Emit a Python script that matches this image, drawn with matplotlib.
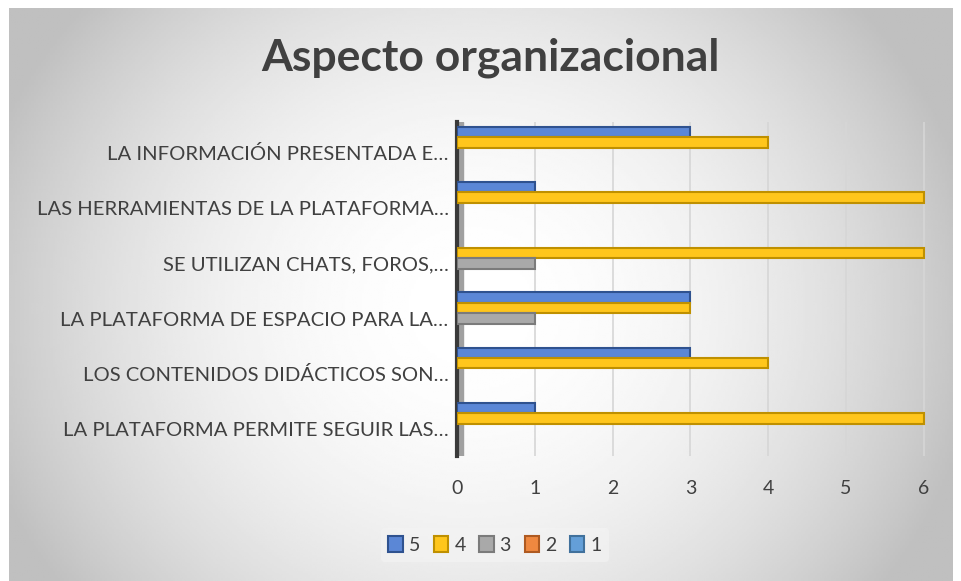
import numpy as np
import matplotlib.pyplot as plt
from matplotlib.patches import Patch

# datos (de arriba hacia abajo)
categorias = [
    "LA INFORMACIÓN PRESENTADA E…",
    "LAS HERRAMIENTAS DE LA PLATAFORMA…",
    "SE UTILIZAN CHATS, FOROS,…",
    "LA PLATAFORMA DE ESPACIO PARA LA…",
    "LOS CONTENIDOS DIDÁCTICOS SON…",
    "LA PLATAFORMA PERMITE SEGUIR LAS…",
]
serie_5 = [3, 1, 0, 3, 3, 1]
serie_4 = [4, 6, 6, 3, 4, 6]
serie_3 = [0, 0, 1, 1, 0, 0]
serie_2 = [0, 0, 0, 0, 0, 0]
serie_1 = [0, 0, 0, 0, 0, 0]
nombres = ["5", "4", "3", "2", "1"]
ticks_x = [0, 1, 2, 3, 4, 5, 6]

rellenos = ["#5b87d6", "#ffc61c", "#a9a9a9", "#ef8840", "#649fd8"]
bordes = ["#2f528f", "#bf9000", "#7b7b7b", "#ae5a21", "#41719c"]

plt.rcParams['font.family'] = ['Lato', 'DejaVu Sans']
texto = "#404040"

W, H = 961, 581
fig = plt.figure(figsize=(W / 100, H / 100), dpi=100, facecolor="white")

# fondo con degradado radial
bg = fig.add_axes([9 / W, 0, (953 - 9) / W, (581 - 8) / H])
bg.set_axis_off()
gx, gy = np.meshgrid(np.linspace(-1, 1, 400), np.linspace(-1, 1, 250))
r2 = ((gx + 0.02) / 1.0) ** 2 + ((gy + 0.05) / 1.5) ** 2
val = np.clip(1.0 - 0.21 * r2, 0.75, 1)
bg.imshow(val, cmap="gray", vmin=0, vmax=1, aspect="auto", extent=[0, 1, 0, 1], origin="lower")
bg.set_zorder(0)

ax = fig.add_axes([457 / W, 1 - 456 / H, (926 - 457) / W, (456 - 122) / H])
ax.set_zorder(1)
ax.patch.set_alpha(0)

n = len(categorias)
y = np.arange(n)[::-1]
series = [serie_5, serie_4, serie_3, serie_2, serie_1]
alto = 0.19
desp = [0.38, 0.19, 0.0, -0.19, -0.38]
for s, d, f, b in zip(series, desp, rellenos, bordes):
    s = np.array(s)
    m = s > 0  # las barras en cero no se dibujan
    ax.barh(y[m] + d, s[m], height=alto, color=f, edgecolor=b, linewidth=1.5, zorder=3)

ax.set_xlim(0, 6.03)
ax.set_ylim(-0.49, 5.56)
ax.set_xticks(ticks_x)
ax.set_xticklabels([str(t) for t in ticks_x])
ax.set_yticks(y)
ax.set_yticklabels(categorias)
ax.tick_params(axis="x", length=0, pad=17, labelsize=14, labelcolor=texto)
ax.tick_params(axis="y", length=0, pad=6, labelsize=14.6, labelcolor=texto)
ax.grid(axis="x", color="#d6d6d6", linewidth=1.2, zorder=0)
for sp in ["top", "right", "bottom"]:
    ax.spines[sp].set_visible(False)
ax.spines["left"].set_color("#3a3a3a")
ax.spines["left"].set_linewidth(3)
ax.axvspan(0, 0.08, color="#a0a0a0", zorder=1)

fig.text(490 / W, 1 - 58 / H, "Aspecto organizacional", ha="center", va="center",
         fontsize=32, fontweight="bold", color=texto)

handles = [Patch(facecolor=f, edgecolor=b, linewidth=1.5) for f, b in zip(rellenos, bordes)]
fig.legend(handles, nombres, loc="center", bbox_to_anchor=(495 / W, 1 - 545 / H), ncol=5,
           frameon=True, fontsize=14, labelcolor=texto, handlelength=0.75, handleheight=0.85,
           handletextpad=0.3, columnspacing=0.7, facecolor="#f4f4f4", edgecolor="none",
           framealpha=0.6)

fig.savefig("out.png", dpi=100, facecolor="white")
